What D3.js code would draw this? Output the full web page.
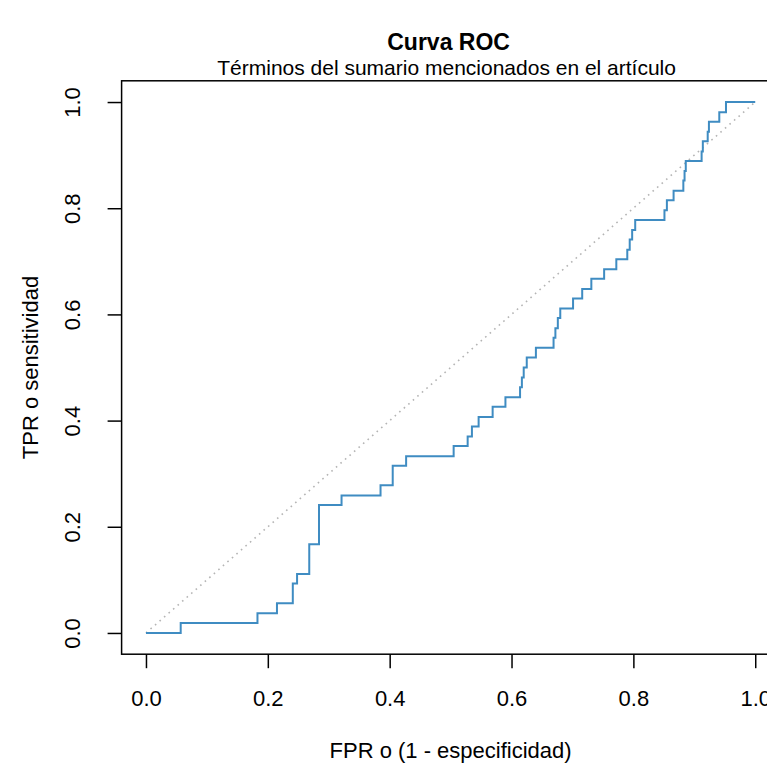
<!DOCTYPE html>
<html>
<head>
<meta charset="utf-8">
<script src="https://cdn.jsdelivr.net/npm/d3@7"></script>
<style>
  html, body { margin: 0; padding: 0; background: #ffffff; }
  svg { display: block; }
  text { font-family: "Liberation Sans", Arial, Helvetica, sans-serif; fill: #000; }
</style>
</head>
<body>
<script>
// ROC curve vertices: false positive rate where the curve steps up, and the new true positive rate
const fpr = [0, 0.057, 0.183, 0.215, 0.241, 0.248, 0.268, 0.284, 0.321, 0.385,
             0.405, 0.427, 0.505, 0.528, 0.535, 0.546, 0.569, 0.590, 0.614, 0.617,
             0.620, 0.625, 0.640, 0.669, 0.672, 0.676, 0.680, 0.701, 0.716, 0.731,
             0.752, 0.772, 0.790, 0.794, 0.798, 0.803, 0.851, 0.855, 0.866, 0.882,
             0.884, 0.886, 0.912, 0.914, 0.922, 0.924, 0.941, 0.952, 1.0];
const tpr = [0, 0.019, 0.037, 0.056, 0.093, 0.111, 0.167, 0.241, 0.259, 0.278,
             0.315, 0.333, 0.352, 0.370, 0.389, 0.407, 0.426, 0.444, 0.463, 0.481,
             0.500, 0.519, 0.537, 0.556, 0.574, 0.593, 0.611, 0.630, 0.648, 0.667,
             0.685, 0.704, 0.722, 0.741, 0.759, 0.778, 0.796, 0.815, 0.833, 0.852,
             0.870, 0.889, 0.907, 0.926, 0.944, 0.963, 0.981, 1.000, 1.000];

// Chance line
const chanceX = [0, 1];
const chanceY = [0, 1];

const xTicks = [0, 0.2, 0.4, 0.6, 0.8, 1.0];
const yTicks = [0, 0.2, 0.4, 0.6, 0.8, 1.0];

const titleText = "Curva ROC";
const subtitleText = "Términos del sumario mencionados en el artículo";
const xLabel = "FPR o (1 - especificidad)";
const yLabel = "TPR o sensitividad";

const W = 767, H = 763;
const plot = { left: 121.6, right: 779.6, top: 80.8, bottom: 654.2 };

const svg = d3.select("body").append("svg")
  .attr("width", W).attr("height", H)
  .attr("viewBox", `0 0 ${W} ${H}`);

svg.append("rect").attr("width", W).attr("height", H).attr("fill", "#fff");

// Data range padded by 4% on each side
const x = d3.scaleLinear().domain([-0.04, 1.04]).range([plot.left, plot.right]);
const y = d3.scaleLinear().domain([-0.04, 1.04]).range([plot.bottom, plot.top]);

// Diagonal reference
svg.append("path")
  .datum(chanceX.map((v, i) => [v, chanceY[i]]))
  .attr("d", d3.line().x(d => x(d[0])).y(d => y(d[1])))
  .attr("fill", "none")
  .attr("stroke", "#b4b4b4")
  .attr("stroke-width", 1.6)
  .attr("stroke-dasharray", "1.6,4.4");

// ROC curve as a step function
const rocPts = fpr.map((v, i) => [v, tpr[i]]);
svg.append("path")
  .datum(rocPts)
  .attr("d", d3.line().x(d => x(d[0])).y(d => y(d[1])).curve(d3.curveStepAfter))
  .attr("fill", "none")
  .attr("stroke", "#3f8cc2")
  .attr("stroke-width", 2)
  .attr("stroke-linejoin", "miter");

// Plot frame
svg.append("rect")
  .attr("x", plot.left).attr("y", plot.top)
  .attr("width", plot.right - plot.left).attr("height", plot.bottom - plot.top)
  .attr("fill", "none").attr("stroke", "#000").attr("stroke-width", 1.5);

// Axes
const xAxis = svg.append("g")
  .attr("transform", `translate(0,${plot.bottom})`)
  .call(d3.axisBottom(x).tickValues(xTicks).tickFormat(d3.format(".1f")).tickSizeInner(14).tickSizeOuter(0).tickPadding(22));
xAxis.select(".domain").remove();
xAxis.selectAll("line").attr("stroke", "#000").attr("stroke-width", 1.5);
xAxis.selectAll("text").attr("font-size", 22).attr("font-family", null).attr("dy", "0.71em");

const yAxis = svg.append("g")
  .attr("transform", `translate(${plot.left},0)`)
  .call(d3.axisLeft(y).tickValues(yTicks).tickFormat(d3.format(".1f")).tickSizeInner(14).tickSizeOuter(0));
yAxis.select(".domain").remove();
yAxis.selectAll("line").attr("stroke", "#000").attr("stroke-width", 1.5);
yAxis.selectAll("text")
  .attr("font-size", 22).attr("font-family", null)
  .attr("x", null).attr("dy", null)
  .attr("text-anchor", "middle")
  .attr("transform", "translate(-49,0) rotate(-90)")
  .attr("dy", "0.35em");

// Titles
svg.append("text")
  .attr("x", (plot.left + plot.right) / 2 - 2).attr("y", 50)
  .attr("text-anchor", "middle")
  .attr("font-size", 23).attr("font-weight", "bold")
  .text(titleText);

svg.append("text")
  .attr("x", (plot.left + plot.right) / 2 - 4).attr("y", 75)
  .attr("text-anchor", "middle")
  .attr("font-size", 21)
  .text(subtitleText);

svg.append("text")
  .attr("x", (plot.left + plot.right) / 2).attr("y", 758)
  .attr("text-anchor", "middle")
  .attr("font-size", 22)
  .text(xLabel);

svg.append("text")
  .attr("transform", `translate(38,${(plot.top + plot.bottom) / 2}) rotate(-90)`)
  .attr("text-anchor", "middle")
  .attr("font-size", 22)
  .text(yLabel);
</script>
</body>
</html>
